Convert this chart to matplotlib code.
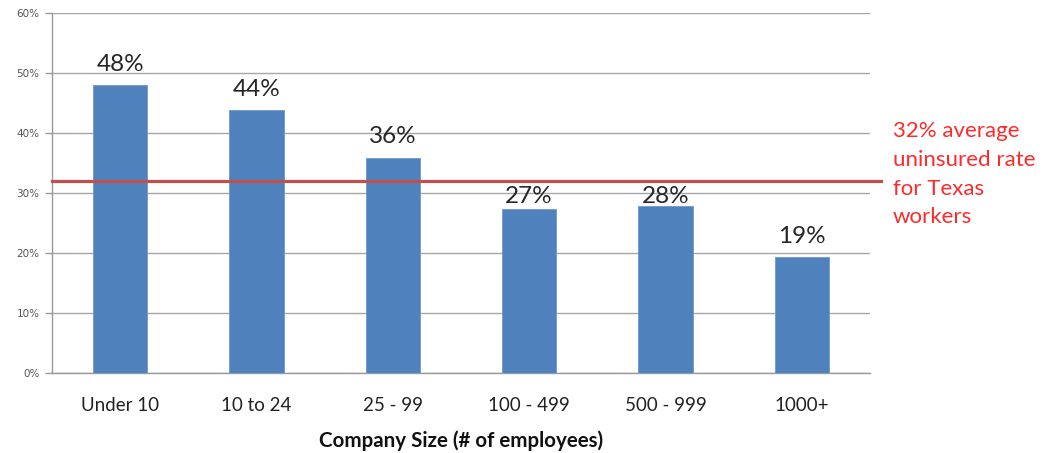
import matplotlib
matplotlib.use("Agg")
import matplotlib.pyplot as plt
from matplotlib.ticker import PercentFormatter

categories = ["Under 10", "10 to 24", "25 - 99", "100 - 499", "500 - 999", "1000+"]
uninsured = [48.0, 43.8, 35.9, 27.4, 27.8, 19.3]
average_rate = 32.0
average_note = "32% average\nuninsured rate\nfor Texas\nworkers"
y_ticks = [0, 10, 20, 30, 40, 50, 60]

# gap between bar top and its value label (labels under the average line sit lower)
label_gap = [1.7, 1.7, 1.7, 0.25, -0.15, 1.7]

fig = plt.figure(figsize=(10.47, 4.53), dpi=100)
ax = fig.add_axes([52 / 1047, 1 - 373 / 453, (870 - 52) / 1047, 360 / 453])

x = range(len(categories))
ax.bar(x, uninsured, width=0.4, color="#4f81bd", edgecolor="#6f98cc",
       linewidth=0.6, zorder=3)

for xi, v, g in zip(x, uninsured, label_gap):
    ax.text(xi, v + g, f"{v:.0f}%", ha="center", va="bottom",
            fontsize=17.5, family="Lato", color="#262626", zorder=6)

ax.set_xlim(-0.5, len(categories) - 0.5)
ax.set_ylim(0, 60)
ax.set_yticks(y_ticks)
ax.yaxis.set_major_formatter(PercentFormatter(decimals=0))
ax.set_xticks(list(x))
ax.set_xticklabels(categories, fontsize=13.5, family="Lato", color="#222222")
ax.tick_params(axis="x", length=0, pad=17)
ax.tick_params(axis="y", length=5, width=1, color="#9a9a9a", pad=4,
               labelsize=7.5, labelcolor="#555555")

ax.grid(axis="y", color="#a6a6a6", linewidth=1, zorder=0)
for side in ("top", "right"):
    ax.spines[side].set_visible(False)
for side in ("left", "bottom"):
    ax.spines[side].set_color("#9a9a9a")
    ax.spines[side].set_linewidth(1)

ax.axhline(average_rate, xmin=0, xmax=(881 - 52) / 818, color="#c0504d",
           linewidth=2.3, zorder=5, clip_on=False)

ax.set_xlabel("Company Size (# of employees)", fontsize=14.8, family="Lato",
              fontweight="bold", color="#111111", labelpad=12)

fig.text(893 / 1047, 1 - 121 / 453, average_note, ha="left", va="top",
         fontsize=16, family="Lato", color="#ff2a2a", linespacing=1.55)

fig.savefig("out.png", dpi=100)
